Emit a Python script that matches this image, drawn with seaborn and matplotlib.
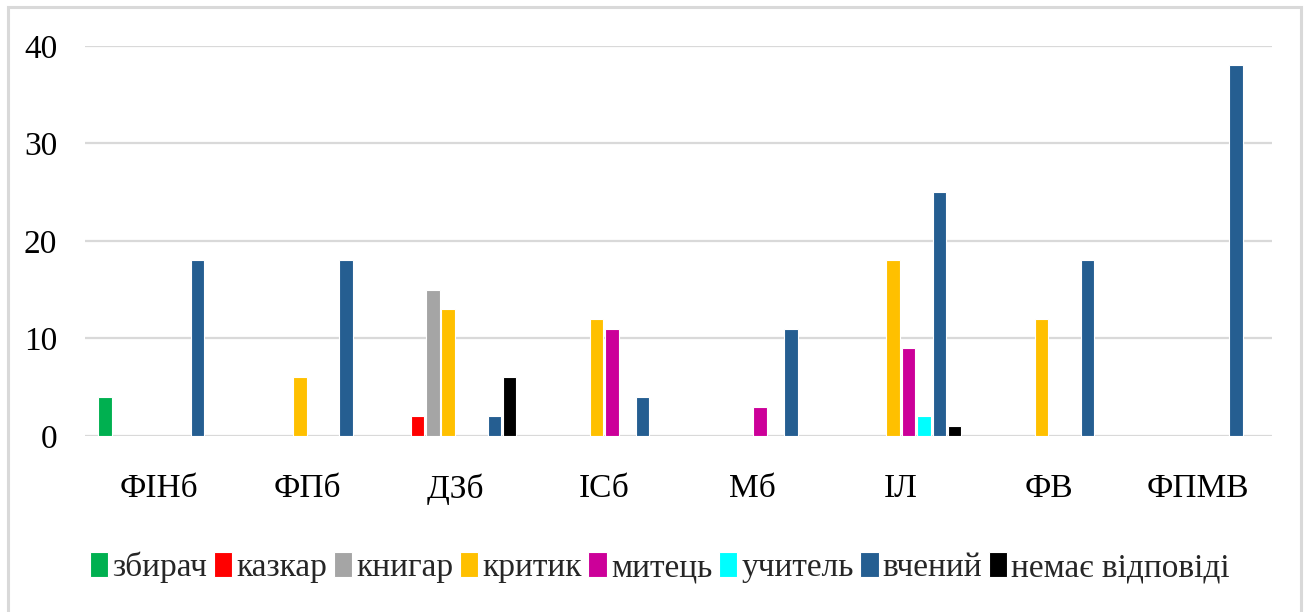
import matplotlib
matplotlib.use("Agg")
import matplotlib.pyplot as plt
from matplotlib.patches import Rectangle
import pandas as pd
import seaborn as sns

# ── Data ──────────────────────────────────────────────────────────────────────
GROUPS = ["ФІНб", "ФПб", "ДЗб", "ІСб", "Мб", "ІЛ", "ФВ", "ФПМВ"]
ROLES = ["збирач", "казкар", "книгар", "критик", "митець", "учитель", "вчений", "немає відповіді"]

zbyrach   = [4, 0, 0, 0, 0, 0, 0, 0]
kazkar    = [0, 0, 2, 0, 0, 0, 0, 0]
knyhar    = [0, 0, 15, 0, 0, 0, 0, 0]
krytyk    = [0, 6, 13, 12, 0, 18, 12, 0]
mytets    = [0, 0, 0, 11, 3, 9, 0, 0]
uchytel   = [0, 0, 0, 0, 0, 2, 0, 0]
vchenyi   = [18, 18, 2, 4, 11, 25, 18, 38]
no_answer = [0, 0, 6, 0, 0, 1, 0, 0]

COLORS = ["#00B050", "#FF0000", "#A5A5A5", "#FFC000",
          "#CC0099", "#00FFFF", "#255E91", "#000000"]

# ── Long table ────────────────────────────────────────────────────────────────
series = [zbyrach, kazkar, knyhar, krytyk, mytets, uchytel, vchenyi, no_answer]
rows = []
for role, vals in zip(ROLES, series):
    for grp, v in zip(GROUPS, vals):
        rows.append({"group": grp, "role": role, "value": v})
df = pd.DataFrame(rows)
df = df[df["value"] > 0]

# ── Plot ──────────────────────────────────────────────────────────────────────
sns.set_style("white")
plt.rcParams["font.family"] = ["Liberation Serif", "DejaVu Serif"]

fig = plt.figure(figsize=(13.07, 6.12), dpi=100)
ax = fig.add_axes([0.065, 0.2876, 0.908, 0.6373])

sns.barplot(
    data=df, x="group", y="value", hue="role",
    order=GROUPS, hue_order=ROLES, palette=COLORS, saturation=1,
    width=0.83, gap=0.12, edgecolor="white", linewidth=0.8,
    errorbar=None, legend=True, ax=ax, zorder=3,
)

ax.set_ylim(0, 40)
ax.set_xlim(-0.5, len(GROUPS) - 0.5)
ax.set_yticks([0, 10, 20, 30, 40])
ax.yaxis.grid(True, color="#D9D9D9", linewidth=1.6, zorder=0)
ax.set_axisbelow(True)
ax.set_xlabel("")
ax.set_ylabel("")
for s in ax.spines.values():
    s.set_visible(False)
ax.tick_params(axis="y", length=0, pad=20, labelsize=24, colors="#000000")
ax.tick_params(axis="x", length=0, pad=27, labelsize=24, colors="#000000")

ax.get_legend().remove()
handles, labels = ax.get_legend_handles_labels()
fig.legend(
    handles, labels, loc="center", bbox_to_anchor=(0.505, 0.073),
    ncol=8, frameon=False, fontsize=24, handlelength=0.55, handleheight=0.8,
    handletextpad=0.12, columnspacing=0.2, borderaxespad=0,
)

# outer chart frame
fig.patches.append(Rectangle((8 / 1307, -0.01), 1293 / 1307, 1 - 7 / 612 + 0.01,
                             transform=fig.transFigure, fill=False,
                             edgecolor="#D9D9D9", linewidth=2.2))

fig.savefig("out.png", dpi=100)
